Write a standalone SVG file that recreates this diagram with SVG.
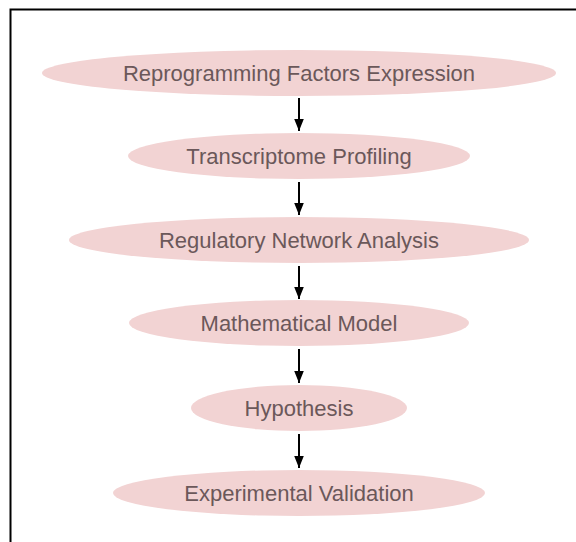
<svg xmlns="http://www.w3.org/2000/svg" width="576" height="542" viewBox="0 0 576 542">
  <style>
    .node ellipse { fill: #f2d3d3; }
    .node text { font-family: "Liberation Sans", Arial, sans-serif; font-size: 22px; fill: #6b585a; text-anchor: middle; dominant-baseline: central; }
    .edge { stroke: #000; stroke-width: 2; fill: none; marker-end: url(#arrow); }
    .frame { stroke: #000; stroke-width: 2; fill: none; }
  </style>
  <defs>
    <marker id="arrow" viewBox="0 0 10 10" refX="10" refY="5" markerWidth="6" markerHeight="6" markerUnits="strokeWidth" orient="auto">
      <path d="M0,1 L10,5 L0,9 z" fill="#000"/>
    </marker>
  </defs>
  <rect width="576" height="542" fill="#fff"/>
  <!-- frame: top and left edges only -->
  <path class="frame" d="M10.5,542 V9.5 H576"/>

  <g id="connectors">
    <line class="edge" x1="299" y1="98" x2="299" y2="131"/>
    <line class="edge" x1="299" y1="182" x2="299" y2="215"/>
    <line class="edge" x1="299" y1="266" x2="299" y2="299"/>
    <line class="edge" x1="299" y1="349" x2="299" y2="383"/>
    <line class="edge" x1="299" y1="434" x2="299" y2="468"/>
  </g>

  <g id="reprogramming" class="node">
    <ellipse cx="299" cy="73" rx="257" ry="23"/>
    <text x="299" y="73">Reprogramming Factors Expression</text>
  </g>
  <g id="transcriptome" class="node">
    <ellipse cx="299" cy="156" rx="171" ry="23"/>
    <text x="299" y="156">Transcriptome Profiling</text>
  </g>
  <g id="network" class="node">
    <ellipse cx="299" cy="240" rx="230" ry="23"/>
    <text x="299" y="240">Regulatory Network Analysis</text>
  </g>
  <g id="model" class="node">
    <ellipse cx="299" cy="323" rx="170" ry="23"/>
    <text x="299" y="323">Mathematical Model</text>
  </g>
  <g id="hypothesis" class="node">
    <ellipse cx="299" cy="408" rx="108" ry="23"/>
    <text x="299" y="408">Hypothesis</text>
  </g>
  <g id="validation" class="node">
    <ellipse cx="299" cy="493" rx="186" ry="23"/>
    <text x="299" y="493">Experimental Validation</text>
  </g>
</svg>
